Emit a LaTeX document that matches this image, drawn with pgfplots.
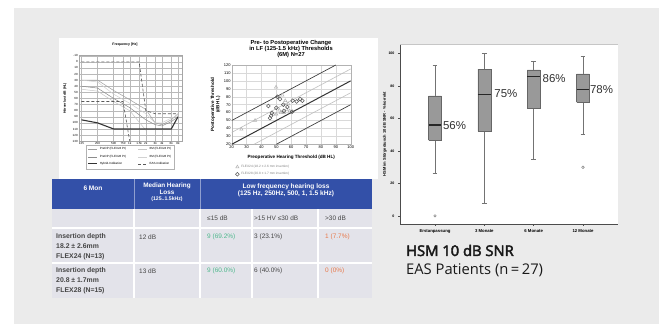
\documentclass[border=0pt]{standalone}
\usepackage{pgfplots}
\pgfplotsset{compat=1.18}
\usepackage{fontspec}
\setmainfont{Liberation Sans}
\newfontfamily\capfont{Open Sans}
\newfontfamily\capfontb[FakeBold=3]{Open Sans}
\definecolor{bg}{HTML}{EBEBEB}
\definecolor{tblue}{HTML}{3350A8}
\definecolor{tbody}{HTML}{E3E3EA}
\definecolor{tgreen}{HTML}{4DB88C}
\definecolor{torange}{HTML}{E8784A}
\definecolor{txt}{HTML}{454545}
\newcommand{\fs}[1]{\fontsize{#1}{#1}\selectfont}
\begin{document}
\begin{tikzpicture}
\useasboundingbox (0bp,0bp) rectangle (659bp,324bp);
\fill[white] (0bp,0bp) rectangle (659bp,324bp);
\fill[bg] (14bp,0bp) rectangle (659bp,316bp);
\fill[white] (59bp,145bp) rectangle (378bp,286bp);
% ---------------- table ----------------
\fill[tbody] (52bp,26bp) rectangle (372bp,115bp);
\fill[tblue] (52bp,115bp) rectangle (372bp,145bp);
\draw[white, line width=1.2bp] (52bp,96bp) -- (372bp,96bp) (52bp,61bp) -- (372bp,61bp);
\draw[white, line width=1.2bp] (134bp,26bp) -- (134bp,115bp) (200bp,26bp) -- (200bp,115bp) (252bp,26bp) -- (252bp,115bp) (318bp,26bp) -- (318bp,115bp);
\draw[tblue!55!white, line width=1bp] (134bp,115bp) -- (134bp,145bp) (200bp,115bp) -- (200bp,145bp);
\begin{scope}[every node/.style={inner sep=0, text=white, align=center}]
\node[font=\bfseries\fs{6.6}] at (93bp,136bp) {6 Mon};
\node[font=\bfseries\fontsize{6.4}{6.4}\selectfont] at (167bp,131.5bp) {Median Hearing\\Loss\\{\fontsize{5.2}{6.4}\selectfont (125..1.5kHz)}};
\node[font=\bfseries\fontsize{6.6}{7}\selectfont] at (286bp,133.5bp) {Low frequency hearing loss\\(125 Hz, 250Hz, 500, 1, 1.5 kHz)};
\end{scope}
\begin{scope}[every node/.style={inner sep=0, text=txt, anchor=west, font=\fs{6.5}}]
\node at (207bp,106bp) {≤15 dB};
\node at (254bp,106bp) {>15  HV ≤30 dB};
\node at (325bp,106bp) {>30 dB};
\node[font=\bfseries\fontsize{6.9}{10}\selectfont, align=left] at (56bp,77bp) {Insertion depth\\18.2 ± 2.6mm\\FLEX24 (N=13)};
\node[font=\bfseries\fontsize{6.9}{10}\selectfont, align=left] at (56bp,43bp) {Insertion depth\\20.8 ± 1.7mm\\FLEX28 (N=15)};
\node at (139bp,87bp) {12 dB};
\node[text=tgreen] at (207bp,87bp) {9 (69.2\%)};
\node at (254bp,87bp) {3 (23.1\%)};
\node[text=torange] at (325bp,87bp) {1 (7.7\%)};
\node at (139bp,53bp) {13 dB};
\node[text=tgreen] at (207bp,53bp) {9 (60.0\%)};
\node at (254bp,53bp) {6 (40.0\%)};
\node[text=torange] at (325bp,53bp) {0 (0\%)};
\end{scope}
% ---------------- audiogram ----------------
\begin{axis}[at={(78.7bp,182.8bp)}, anchor=south west, scale only axis, width=103.3bp, height=85.5bp,
 /pgf/number format/assume math mode=true,
 xmode=log, xmin=111, xmax=9514, ymin=-10, ymax=130, y dir=reverse,
 xtick={125,250,500,750,1000,1500,2000,3000,4000,6000,8000},
 xticklabels={125,250,500,750,1k,1.5k,2k,3k,4k,6k,8k},
 xtick pos=left, xticklabel pos=left,
 ytick={-10,0,...,130}, ytick pos=left,
 grid=major, major grid style={gray!55, line width=0.3bp},
 axis line style={gray!70, line width=0.4bp},
 major tick length=0pt,
 tick label style={font=\fs{3}, inner sep=0.8bp},
 ylabel={\bfseries Hörverlust dB (HL)},
 ylabel style={font=\fs{3.5}, at={(axis description cs:-0.133,0.5)}, anchor=center},
 legend columns=2, legend cell align=left,
 legend style={at={(0.5,-0.04)}, anchor=north, font=\fs{3}, draw=gray!60, inner sep=1bp, row sep=-0.5bp,
   /tikz/every even column/.append style={column sep=10bp}},
 legend image code/.code={\draw[#1] (0bp,0bp) -- (9bp,0bp);},
]
\addplot[gray!75, line width=0.5bp] coordinates {(125,30)(250,30)(500,47)(1000,62)(2000,78)(3000,100)(4000,103)(6000,95)(8000,85)};
\addlegendentry{PreOP (FLEX24 Pt)}
\addplot[gray!45, line width=0.5bp] coordinates {(125,45)(250,48)(500,65)(1000,80)(2000,112)};
\addlegendentry{6M (FLEX24 Pt)}
\addplot[gray!90, line width=0.5bp] coordinates {(125,40)(250,43)(500,60)(1000,75)(2000,95)(3000,103)(4000,105)(6000,98)(8000,90)};
\addlegendentry{PreOP (FLEX28 Pt)}
\addplot[gray!35, line width=0.5bp] coordinates {(125,30)(250,33)(500,53)(1000,68)(2000,85)(3000,100)(4000,100)(6000,92)(8000,88)};
\addlegendentry{6M (FLEX28 Pt)}
\addplot[black!80, line width=1.1bp] coordinates {(125,95)(250,100)(500,110)(6000,110)(8000,90)};
\addlegendentry{Hybrid-Indikation}
\addplot[black!65, densely dashed, line width=0.6bp] coordinates {(125,0)(1500,0)(2000,80)(3000,85)(8000,85)};
\addlegendentry{EAS-Indikation}
\addplot[black!65, densely dashed, line width=0.6bp, forget plot] coordinates {(125,65)(750,65)(1000,130)};
\end{axis}
\node[font=\bfseries\fs{3.5}, inner sep=0] at (125bp,279bp) {Frequency [Hz]};
% ---------------- scatter ----------------
\begin{axis}[at={(231.7bp,179.7bp)}, anchor=south west, scale only axis, width=119bp, height=79.3bp,
 /pgf/number format/assume math mode=true,
 xmin=20, xmax=100, ymin=20, ymax=120, xtick={20,30,...,100}, ytick={20,30,...,120},
 grid=major, major grid style={gray!30, line width=0.3bp}, axis line style={gray!60, line width=0.4bp},
 major tick length=0pt, tick label style={font=\fs{4}, inner sep=1bp},
 xlabel={Preoperative Hearing Threshold (dB HL)},
 xlabel style={font=\bfseries\fs{4.6}, at={(axis description cs:0.5,-0.16)}, anchor=center, inner sep=0},
 ylabel={Postoperative Threshold\\(dB HL)},
 ylabel style={font=\bfseries\fontsize{4.6}{5.2}\selectfont, align=center, at={(axis description cs:-0.136,0.5)}, anchor=center, inner sep=0},
 legend style={at={(0.03,-0.235)}, anchor=north west, draw=none, fill=none, font=\fs{3.2}, text=gray, inner sep=0, row sep=-0.6bp},
 legend cell align=left,
]
\addplot[black!75, line width=0.7bp, forget plot] coordinates {(20,50)(90,120)};
\addplot[gray!50, line width=0.6bp, forget plot] coordinates {(20,35)(100,115)};
\addplot[black!80, line width=1bp, forget plot] coordinates {(20,20)(100,100)};
\addplot[gray!50, line width=0.6bp, forget plot] coordinates {(35,20)(100,85)};
\addplot[black!75, line width=0.7bp, forget plot] coordinates {(50,20)(100,70)};
\addplot[only marks, mark=triangle, mark size=1.9bp, gray!60, mark options={line width=0.5bp}] coordinates {
 (26.5,39)(35.7,50)(49.8,92)(54,82)(50,58)(52,63)(53,60)(55,60)(57,64)(58,71)(56,75)(59,62)(48,58)};
\addlegendentry{FLEX24 (18.2 ± 2.6 mm insertion)}
\addplot[only marks, mark=o, mark size=1.9bp, black!65, mark options={line width=0.55bp}] coordinates {
 (44.6,68.3)(50.7,80)(52.5,77)(45.8,53)(46.5,56)(47,59.5)(50,66)(54.7,70)(57.4,67)(61,75)(60.6,61)(63.7,74)(66,77)(67.5,75)(55,62)};
\addlegendentry{FLEX28 (20.8 ± 1.7 mm insertion)}
\end{axis}
\node[font=\bfseries\fontsize{5.8}{6.4}\selectfont, align=center, inner sep=0] at (291bp,275bp) {Pre- to Postoperative Change\\in LF (125-1.5 kHz) Thresholds\\(6M) N=27};
% ---------------- box plot ----------------
\begin{axis}[at={(400bp,100bp)}, anchor=south west, scale only axis, width=218bp, height=180bp,
 /pgf/number format/assume math mode=true,
 xmin=-0.71, xmax=3.71, ymin=-5, ymax=106,
 axis x line*=bottom, axis y line*=left, tick pos=left,
 axis line style={black!70, line width=0.6bp, -},
 axis background/.style={fill=white},
 xtick={0,1,2,3}, xticklabels={Erstanpassung,3 Monate,6 Monate,12 Monate},
 ytick={0,20,...,100},
 tick align=outside, major tick length=2bp, tick style={black!70, line width=0.5bp},
 xticklabel style={font=\bfseries\fs{4.3}},
 yticklabel style={font=\bfseries\fs{3.6}},
 ylabel={HSM im Störgeräusch 10 dB SNR - \% korrekt},
 ylabel style={font=\bfseries\fs{4}, at={(axis description cs:-0.069,0.5)}, anchor=center, inner sep=0},
 whisk/.style={draw=black!55, line width=0.8bp},
 bx/.style={fill=black!40, draw=black!60, line width=0.5bp},
 med/.style={draw=black!85, line width=1.2bp},
 outl/.style={only marks, mark=o, mark size=1.3bp, black!60, mark options={line width=0.4bp}},
]
% Erstanpassung: lw 26.5, q1 46.5, med 56, q3 74, uw 93, outlier 0
\addplot[whisk] coordinates {(0,26.5)(0,93)};
\addplot[whisk] coordinates {(-0.05,93)(0.05,93)};
\addplot[whisk] coordinates {(-0.05,26.5)(0.05,26.5)};
\addplot[bx] coordinates {(-0.13,46.5)(0.13,46.5)(0.13,74)(-0.13,74)(-0.13,46.5)};
\addplot[med] coordinates {(-0.13,56)(0.13,56)};
\addplot[outl] coordinates {(0,0)};
% 3 Monate: lw 7.5, q1 52.5, med 75, q3 90.5, uw 100
\addplot[whisk] coordinates {(1,7.5)(1,100)};
\addplot[whisk] coordinates {(0.95,100)(1.05,100)};
\addplot[whisk] coordinates {(0.95,7.5)(1.05,7.5)};
\addplot[bx] coordinates {(0.87,52.5)(1.13,52.5)(1.13,90.5)(0.87,90.5)(0.87,52.5)};
\addplot[med] coordinates {(0.87,75)(1.13,75)};
% 6 Monate: lw 35, q1 66.5, med 86, q3 90, uw 95
\addplot[whisk] coordinates {(2,35)(2,95)};
\addplot[whisk] coordinates {(1.95,95)(2.05,95)};
\addplot[whisk] coordinates {(1.95,35)(2.05,35)};
\addplot[bx] coordinates {(1.87,66.5)(2.13,66.5)(2.13,90)(1.87,90)(1.87,66.5)};
\addplot[med] coordinates {(1.87,86)(2.13,86)};
% 12 Monate: lw 50, q1 70, med 78, q3 87.5, uw 98.5, outlier 30
\addplot[whisk] coordinates {(3,50)(3,98.5)};
\addplot[whisk] coordinates {(2.95,98.5)(3.05,98.5)};
\addplot[whisk] coordinates {(2.95,50)(3.05,50)};
\addplot[bx] coordinates {(2.87,70)(3.13,70)(3.13,87.5)(2.87,87.5)(2.87,70)};
\addplot[med] coordinates {(2.87,78)(3.13,78)};
\addplot[outl] coordinates {(3,30)};
\node[anchor=west, inner sep=0, font=\fs{11.5}, text=black!80] at (axis cs:0.16,55.8) {56\%};
\node[anchor=west, inner sep=0, font=\fs{11.5}, text=black!80] at (axis cs:1.2,75.4) {75\%};
\node[anchor=west, inner sep=0, font=\fs{11.5}, text=black!80] at (axis cs:2.18,84.5) {86\%};
\node[anchor=west, inner sep=0, font=\fs{11.5}, text=black!80] at (axis cs:3.14,78) {78\%};
\end{axis}
\draw[gray!45, line width=0.4bp] (400bp,280bp) -- (618bp,280bp);
\node[anchor=base west, inner sep=0, font=\capfontb\fs{14.8}, text=black!90] at (406bp,68bp) {HSM 10 dB SNR};
\node[anchor=base west, inner sep=0, font=\capfont\fs{14.8}, text=black!90] at (406bp,49.7bp) {EAS Patients (n\,=\,27)};
\end{tikzpicture}
\end{document}
